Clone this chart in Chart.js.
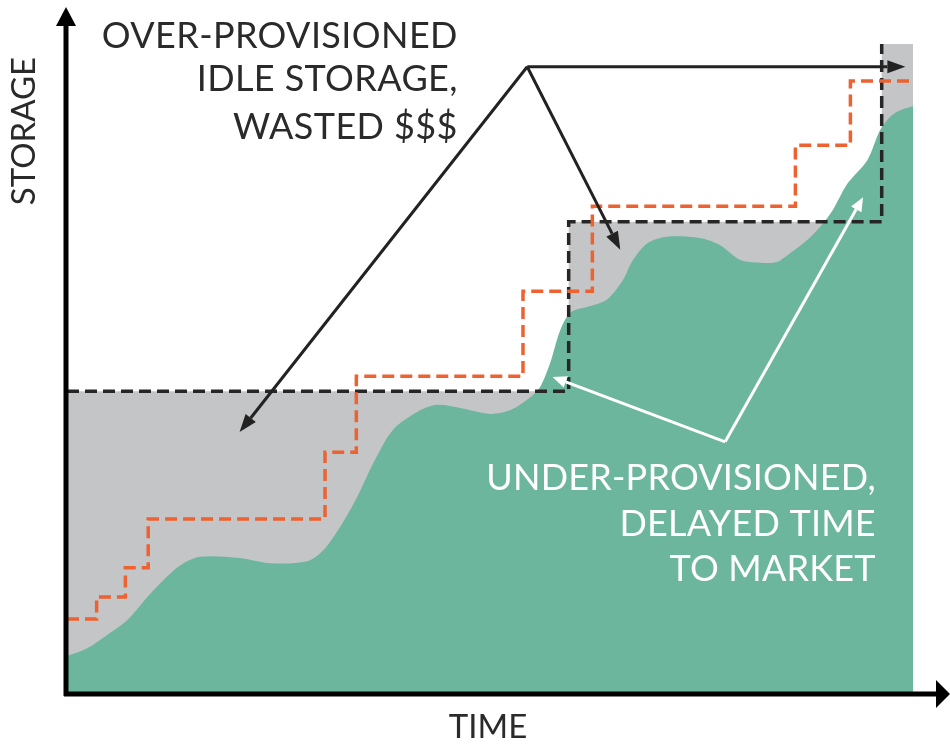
<!DOCTYPE html>
<html>
<head>
<meta charset="utf-8">
<script src="https://cdn.jsdelivr.net/npm/chart.js@4.4.1/dist/chart.umd.min.js"></script>
<style>
  html, body { margin: 0; padding: 0; background: #fff; }
  #wrap { width: 950px; height: 744px; }
</style>
</head>
<body>
<div id="wrap"><canvas id="storageChart" width="950" height="744"></canvas></div>
<script>
// waktu (0-100) dan storage (0-100)
const usageTime  = [0, 2.4, 4.7, 7.1, 9.5, 11.8, 13.4, 15.7, 20.4, 24.0, 28.4, 30.3, 32.3, 34.3, 36.2, 38.5, 41.4, 43.7, 46.5, 50.0, 52.4, 54.7, 55.9, 57.1, 58.3, 59.5, 61.5, 63.8, 65.7, 66.9, 68.6, 70.9, 74.8, 77.2, 79.6, 81.9, 83.9, 85.5, 87.5, 89.0, 90.5, 92.2, 94.6, 96.1, 97.3, 98.5, 100];
const usageValue = [5.7, 6.9, 8.9, 11.2, 14.8, 17.9, 19.7, 21.0, 20.8, 20.0, 20.3, 22.0, 25.6, 30.2, 35.4, 40.5, 43.3, 44.4, 43.9, 43.0, 43.6, 45.5, 47.1, 50.8, 55.9, 58.6, 59.5, 60.6, 63.6, 66.7, 69.3, 70.3, 70.1, 69.0, 66.7, 66.3, 66.4, 67.8, 69.8, 71.8, 74.4, 78.4, 82.1, 86.7, 88.8, 89.8, 90.4];

// kapasitas yang disediakan (step)
const provTime  = [0, 59.3, 96.3, 100];
const provValue = [46.5, 72.6, 100, 100];

// kapasitas ideal (step oranye)
const idealTime  = [0, 3.5, 6.9, 9.6, 30.5, 34.2, 53.9, 62.1, 86.1, 92.6, 100];
const idealValue = [11.4, 14.8, 19.3, 26.8, 37.1, 48.8, 61.9, 75.0, 84.4, 94.3, 94.3];

const axisTitles = ['TIME', 'STORAGE'];
const overLabel  = ['OVER-PROVISIONED', 'IDLE STORAGE,', 'WASTED $$$'];
const underLabel = ['UNDER-PROVISIONED,', 'DELAYED TIME', 'TO MARKET'];

const toPoints = (xs, ys) => xs.map((x, i) => ({ x: x, y: ys[i] }));

// anotasi panah (dalam satuan data)
const overArrows = {
    from: { x: 54.4, y: 96.5 },
    to: [ { x: 20.4, y: 40.2 }, { x: 65.4, y: 68.3 }, { x: 99.1, y: 96.5 } ]
};
const underArrows = {
    from: { x: 77.8, y: 38.7 },
    to: [ { x: 57.4, y: 48.7 }, { x: 94.1, y: 76.4 } ]
};

function drawArrow(ctx, x1, y1, x2, y2, color, width, headLen, headW) {
    const ang = Math.atan2(y2 - y1, x2 - x1);
    const bx = x2 - Math.cos(ang) * headLen;
    const by = y2 - Math.sin(ang) * headLen;
    ctx.save();
    ctx.strokeStyle = color;
    ctx.fillStyle = color;
    ctx.lineWidth = width;
    ctx.beginPath();
    ctx.moveTo(x1, y1);
    ctx.lineTo(bx, by);
    ctx.stroke();
    ctx.beginPath();
    ctx.moveTo(x2, y2);
    ctx.lineTo(bx + Math.sin(ang) * headW / 2, by - Math.cos(ang) * headW / 2);
    ctx.lineTo(bx - Math.sin(ang) * headW / 2, by + Math.cos(ang) * headW / 2);
    ctx.closePath();
    ctx.fill();
    ctx.restore();
}

const decorPlugin = {
    id: 'decor',
    afterDatasetsDraw(chart) {
        const ctx = chart.ctx;
        const xs = chart.scales.x, ys = chart.scales.y;
        const area = chart.chartArea;
        const px = v => xs.getPixelForValue(v);
        const py = v => ys.getPixelForValue(v);

        // panah hitam
        const f = overArrows.from;
        overArrows.to.forEach(t => {
            drawArrow(ctx, px(f.x), py(f.y), px(t.x), py(t.y), '#222', 3, 18, 13);
        });
        // panah putih
        const g = underArrows.from;
        underArrows.to.forEach(t => {
            drawArrow(ctx, px(g.x), py(g.y), px(t.x), py(t.y), '#fff', 3, 14, 12);
        });

        // teks
        ctx.save();
        ctx.font = '400 36px Lato';
        ctx.letterSpacing = '0.4px';
        ctx.textAlign = 'right';
        ctx.textBaseline = 'middle';
        ctx.fillStyle = '#2a2a2a';
        const overY = [101.2, 94.5, 87.2];
        overLabel.forEach((s, i) => ctx.fillText(s, px(46.2), py(overY[i])));
        ctx.fillStyle = '#fff';
        ctx.letterSpacing = '0.2px';
        const underY = [33.0, 26.0, 19.1];
        underLabel.forEach((s, i) => ctx.fillText(s, px(95.6), py(underY[i])));
        ctx.restore();

        // sumbu
        ctx.save();
        ctx.fillStyle = '#000';
        ctx.strokeStyle = '#000';
        ctx.lineWidth = 5;
        ctx.beginPath();
        ctx.moveTo(area.left - 1, area.bottom + 3);
        ctx.lineTo(area.left - 1, 22);
        ctx.moveTo(area.left - 3, area.bottom + 1);
        ctx.lineTo(938, area.bottom + 1);
        ctx.stroke();
        ctx.beginPath();
        ctx.moveTo(area.left - 1, 7);
        ctx.lineTo(area.left - 11, 26);
        ctx.lineTo(area.left + 9, 26);
        ctx.closePath();
        ctx.fill();
        ctx.beginPath();
        ctx.moveTo(950, area.bottom + 1);
        ctx.lineTo(936, area.bottom - 13);
        ctx.lineTo(936, area.bottom + 15);
        ctx.closePath();
        ctx.fill();

        ctx.fillStyle = '#2a2a2a';
        ctx.font = '400 33px Lato';
        ctx.textAlign = 'center';
        ctx.textBaseline = 'middle';
        ctx.fillText(axisTitles[0], 488, 727);
        ctx.translate(23, 131);
        ctx.rotate(-Math.PI / 2);
        ctx.fillText(axisTitles[1], 0, 1);
        ctx.restore();
    }
};

const ctx = document.getElementById('storageChart').getContext('2d');
new Chart(ctx, {
    type: 'line',
    data: {
        datasets: [
            {
                label: 'Ideal',
                data: toPoints(idealTime, idealValue),
                stepped: 'before',
                borderColor: '#ee6231',
                borderWidth: 3.5,
                borderDash: [12, 6],
                pointRadius: 0,
                fill: false,
                order: 0
            },
            {
                label: 'Provisioned line',
                data: toPoints(provTime.slice(0, 3), provValue.slice(0, 3)),
                stepped: 'before',
                borderColor: '#262626',
                borderWidth: 3.5,
                borderDash: [12, 6],
                pointRadius: 0,
                fill: false,
                order: 1
            },
            {
                label: 'Usage',
                data: toPoints(usageTime, usageValue),
                borderWidth: 0,
                borderColor: 'rgba(0,0,0,0)',
                backgroundColor: '#6cb69d',
                tension: 0.3,
                pointRadius: 0,
                fill: 'start',
                order: 2
            },
            {
                label: 'Provisioned',
                data: toPoints(provTime, provValue),
                stepped: 'before',
                borderWidth: 0,
                borderColor: 'rgba(0,0,0,0)',
                backgroundColor: '#c4c5c7',
                pointRadius: 0,
                fill: 'start',
                order: 3
            }
        ]
    },
    options: {
        responsive: false,
        animation: false,
        layout: { padding: { left: 67, right: 37, top: 44, bottom: 51 } },
        scales: {
            x: { type: 'linear', min: 0, max: 100, display: false },
            y: { type: 'linear', min: 0, max: 100, display: false }
        },
        plugins: {
            legend: { display: false },
            tooltip: { enabled: false }
        }
    },
    plugins: [decorPlugin]
});
</script>
</body>
</html>
